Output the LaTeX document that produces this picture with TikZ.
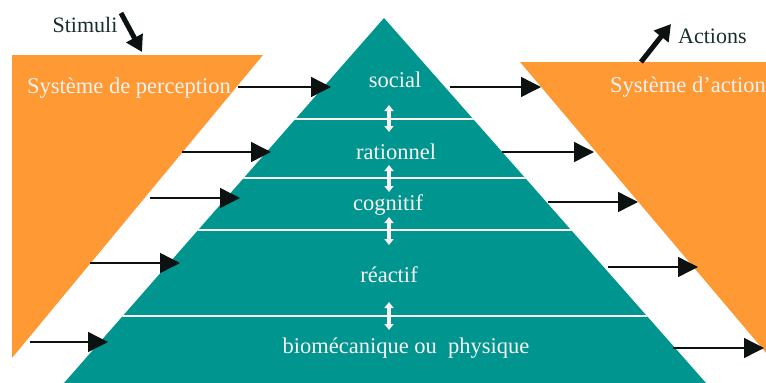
\documentclass[tikz,border=0pt]{standalone}
\usepackage{fontspec}
\setmainfont{Liberation Serif}
\usetikzlibrary{arrows.meta}
\definecolor{tealc}{RGB}{0,150,143}
\definecolor{orng}{RGB}{254,153,52}
\definecolor{txtw}{RGB}{250,242,242}
\definecolor{txtd}{RGB}{25,45,45}
\definecolor{arrc}{RGB}{12,18,18}
\begin{document}
\begin{tikzpicture}[x=1pt,y=-1pt,
  lbl/.style={text=txtw, font=\fontsize{22.5}{26}\selectfont, inner sep=0pt, anchor=base},
  dlbl/.style={text=txtd, font=\fontsize{22}{26}\selectfont, inner sep=0pt, anchor=base},
  harr/.style={draw=arrc, line width=1.4pt, -{Triangle[length=20pt,width=20pt]}},
  dblarr/.style={draw=txtw, line width=3.6pt, {Triangle[length=6pt,width=9pt]}-{Triangle[length=6pt,width=9pt]}},
  bigarr/.style={draw=arrc, line width=5pt, -{Triangle[length=16pt,width=18pt]}},
  sep/.style={draw=txtw, line width=2pt}
]
\useasboundingbox (0,0) rectangle (766,383);
\clip (0,0) rectangle (766,383);
% orange systems
\fill[orng] (12,55) -- (263,55) -- (12,358) -- cycle;
\fill[orng] (520,62) -- (800,62) -- (800,393) -- cycle;
% pyramid
\fill[tealc] (384,18) -- (706,383) -- (64,383) -- cycle;
\begin{scope}
  \clip (384,18) -- (706,383) -- (64,383) -- cycle;
  \foreach \yy in {119,178,230,316} \draw[sep] (0,\yy) -- (766,\yy);
\end{scope}
% labels
\node[lbl] (social) at (395,87) {social};
\node[lbl] (ration) at (396,159) {rationnel};
\node[lbl] (cogn) at (388,210) {cognitif};
\node[lbl] (react) at (389,282) {réactif};
\node[lbl] (bio) at (406,353) {biomécanique ou\ \ physique};
\node[lbl] (perc) at (129,93) {Système de perception};
\node[lbl, anchor=base west] (act) at (610,92) {Système d’action};
\node[dlbl] (stim) at (85,32) {Stimuli};
\node[dlbl, anchor=base west] (actions) at (678,43) {Actions};
% double arrows between layers
\coordinate (d1a) at (389,105); \coordinate (d1b) at (389,132);
\coordinate (d2a) at (389,165); \coordinate (d2b) at (389,192);
\coordinate (d3a) at (389,217); \coordinate (d3b) at (389,245);
\coordinate (d4a) at (389,302); \coordinate (d4b) at (389,330);
\draw[dblarr] (d1a) -- (d1b);
\draw[dblarr] (d2a) -- (d2b);
\draw[dblarr] (d3a) -- (d3b);
\draw[dblarr] (d4a) -- (d4b);
% left arrows (perception -> pyramid)
\coordinate (l1a) at (238,87); \coordinate (l1b) at (331,87);
\coordinate (l2a) at (182,152); \coordinate (l2b) at (271,152);
\coordinate (l3a) at (150,198); \coordinate (l3b) at (240,198);
\coordinate (l4a) at (90,263); \coordinate (l4b) at (180,263);
\coordinate (l5a) at (30,342); \coordinate (l5b) at (108,342);
\draw[harr] (l1a) -- (l1b);
\draw[harr] (l2a) -- (l2b);
\draw[harr] (l3a) -- (l3b);
\draw[harr] (l4a) -- (l4b);
\draw[harr] (l5a) -- (l5b);
% right arrows (pyramid -> action)
\coordinate (r1a) at (450,87); \coordinate (r1b) at (541,87);
\coordinate (r2a) at (502,152); \coordinate (r2b) at (594,152);
\coordinate (r3a) at (548,202); \coordinate (r3b) at (638,202);
\coordinate (r4a) at (608,267); \coordinate (r4b) at (698,267);
\coordinate (r5a) at (673,348); \coordinate (r5b) at (764,348);
\draw[harr] (r1a) -- (r1b);
\draw[harr] (r2a) -- (r2b);
\draw[harr] (r3a) -- (r3b);
\draw[harr] (r4a) -- (r4b);
\draw[harr] (r5a) -- (r5b);
% stimuli / actions arrows
\coordinate (sa) at (121,13); \coordinate (sb) at (142,52);
\draw[bigarr] (sa) -- (sb);
\coordinate (aa) at (641,62); \coordinate (ab) at (671,24);
\draw[bigarr] (aa) -- (ab);
\end{tikzpicture}
\end{document}
